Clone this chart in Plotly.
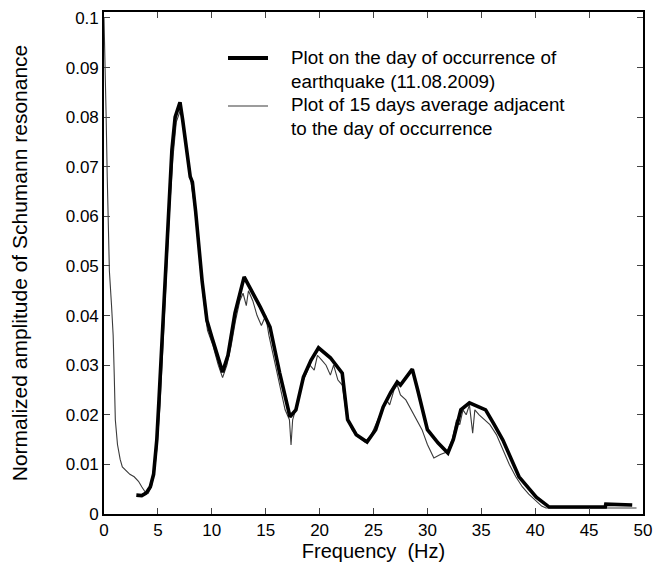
import plotly.graph_objects as go

# Day of earthquake (11.08.2009) - bold curve
quake_freq = [3.0, 3.5, 3.9, 4.3, 4.6, 4.9, 5.1, 5.4, 5.7, 6.0, 6.3, 6.6, 7.05, 7.3, 7.7, 8.0, 8.2, 8.5,
              9.1, 9.55, 10.0, 10.5, 11.0, 11.5, 12.15, 13.0, 13.7, 14.5, 15.4, 16.3, 17.25, 17.8, 18.5,
              19.2, 19.9, 21.0, 22.1, 22.6, 23.4, 24.4, 25.2, 25.9, 26.6, 27.2, 27.5, 28.0, 28.6, 29.1,
              30.0, 31.0, 31.9, 32.4, 33.1, 33.9, 34.6, 35.4, 36.2, 37.0, 38.5, 40.1, 41.3, 46.5, 46.55, 49.0]
quake_amp = [0.0038, 0.0037, 0.0042, 0.0055, 0.008, 0.015, 0.023, 0.035, 0.048, 0.061, 0.0734, 0.080,
             0.083, 0.0794, 0.0734, 0.068, 0.0669, 0.061, 0.047, 0.039, 0.0357, 0.032, 0.0286, 0.032,
             0.0405, 0.0478, 0.045, 0.0417, 0.0377, 0.0284, 0.0196, 0.021, 0.0276, 0.031, 0.0335, 0.0315,
             0.0284, 0.019, 0.016, 0.0145, 0.017, 0.0216, 0.0245, 0.0266, 0.026, 0.0275, 0.0292, 0.025,
             0.017, 0.0143, 0.0123, 0.015, 0.021, 0.0224, 0.0218, 0.021, 0.018, 0.0149, 0.0075, 0.0034,
             0.0014, 0.0014, 0.002, 0.0018]

# 15 days average adjacent to the day of occurrence - thin curve
avg_freq = [0.0, 0.1, 0.2, 0.3, 0.4, 0.5, 0.7, 0.85, 0.95, 1.05, 1.25, 1.5, 1.7, 2.0, 2.4, 2.8, 3.2, 3.5,
            3.8, 4.1, 4.4, 4.7, 4.9, 5.2, 5.5, 5.8, 6.1, 6.4, 6.7, 7.1, 7.4, 7.8, 8.1, 8.4, 8.8, 9.2, 9.6,
            10.1, 10.6, 11.0, 11.4, 11.8, 12.2, 12.6, 12.9, 13.2, 13.4, 13.8, 14.2, 14.6, 15.0, 15.3, 15.8,
            16.3, 16.8, 17.2, 17.35, 17.5, 17.9, 18.3, 18.7, 19.1, 19.5, 19.8, 20.2, 20.6, 21.0, 21.3,
            21.7, 22.1, 22.5, 23.0, 23.6, 24.2, 24.8, 25.4, 25.8, 26.2, 26.5, 26.9, 27.2, 27.5, 28.0,
            28.5, 29.0, 29.5, 30.0, 30.6, 31.2, 31.8, 32.3, 32.7, 33.0, 33.3, 33.6, 33.9, 34.2, 34.4,
            34.8, 35.3, 35.8, 36.4, 37.0, 37.6, 38.2, 38.8, 39.4, 40.0, 40.6, 41.0, 49.4]
avg_amp = [0.1, 0.092, 0.08, 0.068, 0.056, 0.049, 0.042, 0.036, 0.028, 0.019, 0.014, 0.011, 0.0095,
           0.0088, 0.008, 0.0075, 0.0066, 0.0055, 0.0045, 0.0042, 0.0055, 0.009, 0.013, 0.022, 0.036,
           0.05, 0.062, 0.072, 0.079, 0.0815, 0.078, 0.071, 0.066, 0.062, 0.053, 0.044, 0.037, 0.034,
           0.030, 0.0275, 0.030, 0.034, 0.039, 0.043, 0.0445, 0.042, 0.045, 0.043, 0.040, 0.038, 0.040,
           0.036, 0.031, 0.026, 0.021, 0.019, 0.0139, 0.019, 0.022, 0.026, 0.028, 0.030, 0.029, 0.032,
           0.031, 0.030, 0.028, 0.030, 0.027, 0.026, 0.020, 0.017, 0.0155, 0.0145, 0.016, 0.019, 0.021,
           0.023, 0.022, 0.025, 0.026, 0.024, 0.023, 0.021, 0.019, 0.017, 0.014, 0.0113, 0.012, 0.0125,
           0.015, 0.019, 0.018, 0.021, 0.020, 0.022, 0.0163, 0.021, 0.020, 0.019, 0.018, 0.016, 0.013,
           0.010, 0.0075, 0.0055, 0.004, 0.0028, 0.0016, 0.0012, 0.0012]

x_ticks = [0, 5, 10, 15, 20, 25, 30, 35, 40, 45, 50]
y_ticks = [0, 0.01, 0.02, 0.03, 0.04, 0.05, 0.06, 0.07, 0.08, 0.09, 0.1]
y_tick_labels = ["0", "0.01", "0.02", "0.03", "0.04", "0.05", "0.06", "0.07", "0.08", "0.09", "0.1"]
legend_texts = ["Plot on the day of occurrence of<br>earthquake (11.08.2009)",
                "Plot of 15 days average adjacent<br>to the day of occurrence"]

FONT = "Liberation Sans, Arial, sans-serif"

fig = go.Figure()
fig.add_trace(go.Scatter(x=avg_freq, y=avg_amp, mode="lines",
                         line=dict(color="#3a3a3a", width=1.1), showlegend=False))
fig.add_trace(go.Scatter(x=quake_freq, y=quake_amp, mode="lines",
                         line=dict(color="black", width=3.6), showlegend=False))

W, H = 655, 574
L, R, T, B = 104, 12, 12, 60
pw, ph = W - L - R, H - T - B

def px(x):
    return (x - L) / pw

def py(y):
    return (H - B - y) / ph

# legend samples
fig.add_shape(type="line", xref="paper", yref="paper", x0=px(228), x1=px(268), y0=py(58), y1=py(58),
              line=dict(color="black", width=4))
fig.add_shape(type="line", xref="paper", yref="paper", x0=px(228), x1=px(268), y0=py(106), y1=py(106),
              line=dict(color="#3a3a3a", width=1.2))
fig.add_annotation(xref="paper", yref="paper", x=px(289), y=py(69), xanchor="left", yanchor="middle",
                   align="left", showarrow=False, text=legend_texts[0],
                   font=dict(family=FONT, size=18.8, color="black"))
fig.add_annotation(xref="paper", yref="paper", x=px(289), y=py(116), xanchor="left", yanchor="middle",
                   align="left", showarrow=False, text=legend_texts[1],
                   font=dict(family=FONT, size=18.8, color="black"))

fig.update_layout(
    width=W, height=H,
    margin=dict(l=L, r=R, t=T, b=B),
    paper_bgcolor="white", plot_bgcolor="white",
    font=dict(family=FONT, size=17, color="black"),
    xaxis=dict(range=[0, 50], tickvals=x_ticks, ticks="inside", ticklen=6, tickwidth=1.2,
               showline=True, linecolor="black", linewidth=1.6, mirror="ticks", showgrid=False,
               zeroline=False, tickfont=dict(size=17), automargin=False,
               title=dict(text="Frequency  (Hz)", font=dict(size=20), standoff=4)),
    yaxis=dict(range=[0, 0.1012], tickvals=y_ticks, ticktext=y_tick_labels, ticks="inside",
               ticklen=6, tickwidth=1.2, showline=True, linecolor="black", linewidth=1.6,
               mirror="ticks", showgrid=False, zeroline=False, tickfont=dict(size=17),
               automargin=False,
               title=dict(text="Normalized amplitude of Schumann resonance", font=dict(size=21),
                          standoff=32)),
)

fig.write_html("out.html")
